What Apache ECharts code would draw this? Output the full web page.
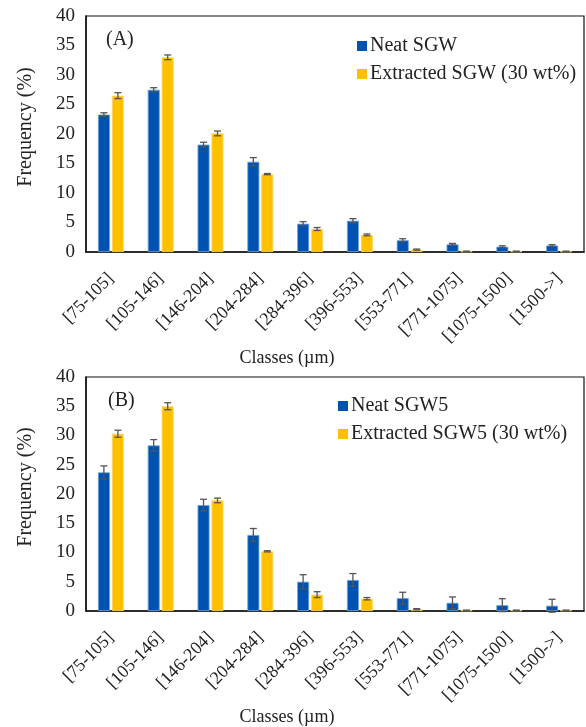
<!DOCTYPE html>
<html>
<head>
<meta charset="utf-8">
<script src="https://cdn.jsdelivr.net/npm/echarts@6/dist/echarts.min.js"></script>
<style>
  html, body { margin: 0; padding: 0; background: #fff; }
  #chart { width: 586px; height: 727px; }
</style>
</head>
<body>
<div id="chart"></div>
<script>
const classes = ['[75-105]', '[105-146]', '[146-204]', '[204-284]', '[284-396]', '[396-553]', '[553-771]', '[771-1075]', '[1075-1500]', '[1500->]'];

// panel A
const neatSGW = [23.3, 27.5, 18.2, 15.3, 4.8, 5.3, 2.0, 1.3, 0.9, 1.1];
const neatSGWErr = [0.3, 0.35, 0.4, 0.7, 0.35, 0.35, 0.25, 0.15, 0.15, 0.15];
const extSGW = [26.5, 33.0, 20.1, 13.2, 3.9, 2.9, 0.4, 0.1, 0.1, 0.1];
const extSGWErr = [0.5, 0.4, 0.4, 0.1, 0.25, 0.15, 0.1, 0.05, 0.05, 0.05];

// panel B
const neatSGW5 = [23.7, 28.3, 18.1, 13.0, 5.0, 5.3, 2.2, 1.4, 1.0, 0.9];
const neatSGW5Err = [1.1, 1.0, 1.0, 1.1, 1.2, 1.1, 1.0, 1.0, 1.1, 1.1];
const extSGW5 = [30.3, 35.0, 18.9, 10.2, 2.8, 2.1, 0.3, 0.1, 0.1, 0.1];
const extSGW5Err = [0.6, 0.6, 0.4, 0.1, 0.5, 0.2, 0.1, 0.05, 0.05, 0.05];

const yTicks = [0, 5, 10, 15, 20, 25, 30, 35, 40];

const BLUE = '#0052B2';
const GOLD = '#FFC000';
const FONT = 'Liberation Serif';
const BAR_W = 12;
const OFFSET = 7;

const chart = echarts.init(document.getElementById('chart'));

function errorSeries(values, errs, axisIdx, shift) {
  return {
    type: 'custom',
    xAxisIndex: axisIdx,
    yAxisIndex: axisIdx,
    silent: true,
    z: 10,
    data: values.map((v, i) => [i, v - errs[i], v + errs[i]]),
    renderItem: (params, api) => {
      const x = api.coord([api.value(0), 0])[0] + shift;
      const lo = api.coord([api.value(0), api.value(1)])[1];
      const hi = api.coord([api.value(0), api.value(2)])[1];
      const st = { stroke: '#555', lineWidth: 1.3 };
      return {
        type: 'group',
        children: [
          { type: 'line', shape: { x1: x, y1: lo, x2: x, y2: hi }, style: st },
          { type: 'line', shape: { x1: x - 3.5, y1: lo, x2: x + 3.5, y2: lo }, style: st },
          { type: 'line', shape: { x1: x - 3.5, y1: hi, x2: x + 3.5, y2: hi }, style: st }
        ]
      };
    }
  };
}

function barSeries(name, values, color, axisIdx) {
  return {
    name: name,
    type: 'bar',
    xAxisIndex: axisIdx,
    yAxisIndex: axisIdx,
    data: values,
    barWidth: BAR_W,
    barGap: '16%',
    itemStyle: { color: color, borderColor: color === BLUE ? '#6FA8E0' : '#FFD966', borderWidth: 0.8 }
  };
}

function xAxis(idx) {
  return {
    type: 'category',
    gridIndex: idx,
    data: classes,
    name: 'Classes (µm)',
    nameLocation: 'middle',
    nameGap: 95,
    nameTextStyle: { fontFamily: FONT, fontSize: 18, color: '#222', padding: [0, 96, 0, 0] },
    axisLine: { lineStyle: { color: '#111', width: 1.5 } },
    axisTick: { show: false },
    axisLabel: { rotate: 45, margin: 24, padding: [0, 0, 0, 5], fontFamily: FONT, fontSize: 18, color: '#222', interval: 0 }
  };
}

function yAxis(idx) {
  return {
    type: 'value',
    gridIndex: idx,
    min: yTicks[0],
    max: yTicks[yTicks.length - 1],
    interval: 5,
    name: 'Frequency (%)',
    nameLocation: 'middle',
    nameGap: 50,
    nameTextStyle: { fontFamily: FONT, fontSize: 20, color: '#222', padding: [0, 0, 0, 14] },
    axisLine: { show: true, lineStyle: { color: '#111', width: 1.5 } },
    axisTick: { show: false },
    splitLine: { show: false },
    axisLabel: { fontFamily: FONT, fontSize: 19, color: '#222', margin: 11 }
  };
}

function legend(left, top, names) {
  return {
    orient: 'vertical',
    left: left,
    top: top,
    itemWidth: 10,
    itemHeight: 10,
    itemGap: 8,
    icon: 'rect',
    data: names,
    itemStyle: { borderWidth: 0 },
    textStyle: { fontFamily: FONT, fontSize: 20, color: '#222', padding: [0, 0, 0, -2] }
  };
}

chart.setOption({
  animation: false,
  backgroundColor: '#fff',
  grid: [
    { left: 86, top: 16, width: 498, height: 236, show: true, borderColor: '#111', borderWidth: 1.2, backgroundColor: 'transparent' },
    { left: 86, top: 377, width: 498, height: 236, show: true, borderColor: '#111', borderWidth: 1.2, backgroundColor: 'transparent' }
  ],
  legend: [
    legend(352, 31, ['Neat SGW', 'Extracted SGW (30 wt%)']),
    legend(333, 391, ['Neat SGW5', 'Extracted SGW5 (30 wt%)'])
  ],
  graphic: [
    { type: 'text', left: 106, top: 30, style: { text: '(A)', font: '20px "Liberation Serif"', fill: '#222' } },
    { type: 'text', left: 108, top: 391, style: { text: '(B)', font: '20px "Liberation Serif"', fill: '#222' } }
  ],
  xAxis: [xAxis(0), xAxis(1)],
  yAxis: [yAxis(0), yAxis(1)],
  series: [
    barSeries('Neat SGW', neatSGW, BLUE, 0),
    barSeries('Extracted SGW (30 wt%)', extSGW, GOLD, 0),
    barSeries('Neat SGW5', neatSGW5, BLUE, 1),
    barSeries('Extracted SGW5 (30 wt%)', extSGW5, GOLD, 1),
    errorSeries(neatSGW, neatSGWErr, 0, -OFFSET),
    errorSeries(extSGW, extSGWErr, 0, OFFSET),
    errorSeries(neatSGW5, neatSGW5Err, 1, -OFFSET),
    errorSeries(extSGW5, extSGW5Err, 1, OFFSET)
  ]
});
</script>
</body>
</html>
